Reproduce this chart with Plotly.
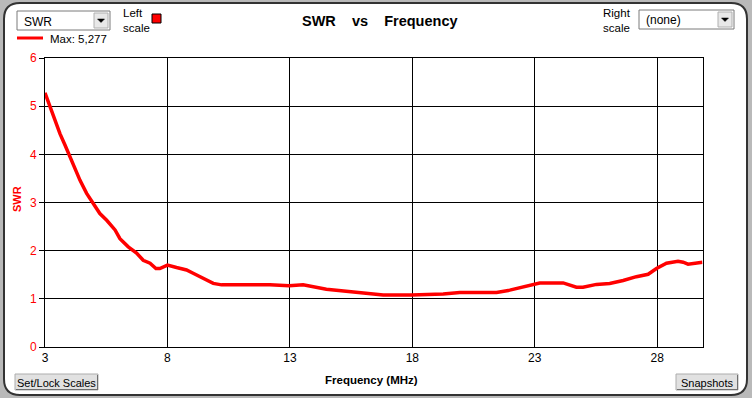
import plotly.graph_objects as go

# ---- data ----
freq_mhz = [3.0, 3.2, 3.41, 3.61, 3.82, 4.02, 4.22, 4.43, 4.70, 5.04, 5.24, 5.52, 5.86, 6.06,
            6.40, 6.74, 7.01, 7.29, 7.53, 7.69, 8.0, 8.37, 8.78, 9.05, 9.46, 9.87, 10.21,
            11.09, 12.18, 12.97, 13.27, 13.54, 14.49, 15.31, 16.13, 16.81, 17.97, 18.85,
            19.26, 19.94, 21.44, 21.98, 22.53, 22.99, 23.20, 24.16, 24.43, 24.70, 24.97,
            25.52, 26.06, 26.61, 27.15, 27.63, 27.97, 28.38, 28.85, 29.06, 29.26, 29.54, 29.85]
swr = [5.277, 4.99, 4.71, 4.43, 4.19, 3.95, 3.67, 3.46, 3.19, 2.91, 2.77, 2.63, 2.43, 2.25,
       2.08, 1.95, 1.80, 1.74, 1.63, 1.63, 1.70, 1.65, 1.60, 1.53, 1.43, 1.32, 1.29,
       1.29, 1.29, 1.27, 1.29, 1.29, 1.20, 1.16, 1.12, 1.08, 1.08, 1.09,
       1.10, 1.13, 1.13, 1.18, 1.25, 1.31, 1.33, 1.33, 1.29, 1.24, 1.24,
       1.30, 1.32, 1.38, 1.46, 1.51, 1.63, 1.74, 1.78, 1.76, 1.72, 1.74, 1.76]
x_ticks = [3, 8, 13, 18, 23, 28]
y_ticks = [0, 1, 2, 3, 4, 5, 6]
x_range = [3, 29.85]
y_range = [0, 6]
max_label = "Max: 5,277"

W, H = 752, 398


def px(x):
    return x / W


def py(y):
    return 1 - y / H


UI = "Liberation Sans, Tahoma, Arial, sans-serif"
ARIAL = "Liberation Sans, Arial, sans-serif"

shapes = []
annotations = []


def rect(x0, y0, x1, y1, fill, line="rgba(0,0,0,0)", lw=1, layer="above"):
    shapes.append(dict(type="rect", xref="paper", yref="paper",
                       x0=px(x0), x1=px(x1), y0=py(y1), y1=py(y0),
                       fillcolor=fill, line=dict(color=line, width=lw), layer=layer))


def line(x0, y0, x1, y1, color, lw=1, layer="above"):
    shapes.append(dict(type="line", xref="paper", yref="paper",
                       x0=px(x0), x1=px(x1), y0=py(y0), y1=py(y1),
                       line=dict(color=color, width=lw), layer=layer))


def text(x, y, s, size=11, color="black", family=UI, xanchor="left", yanchor="middle",
         angle=0, align="left"):
    annotations.append(dict(x=px(x), y=py(y), xref="paper", yref="paper", text=s,
                            showarrow=False, xanchor=xanchor, yanchor=yanchor, align=align,
                            textangle=angle, font=dict(size=size, color=color, family=family)))


# rounded white panel
x0, y0, x1, y1, r = 4, 3, 747, 395, 16
pts = (f"M {px(x0+r)},{py(y0)} L {px(x1-r)},{py(y0)} Q {px(x1)},{py(y0)} {px(x1)},{py(y0+r)} "
       f"L {px(x1)},{py(y1-r)} Q {px(x1)},{py(y1)} {px(x1-r)},{py(y1)} "
       f"L {px(x0+r)},{py(y1)} Q {px(x0)},{py(y1)} {px(x0)},{py(y1-r)} "
       f"L {px(x0)},{py(y0+r)} Q {px(x0)},{py(y0)} {px(x0+r)},{py(y0)} Z")
shapes.append(dict(type="path", xref="paper", yref="paper", path=pts,
                   fillcolor="white", line=dict(color="#333333", width=2), layer="below"))


def dropdown(xa, ya, xb, yb, label):
    rect(xa, ya, xb, yb, "white", "#7a7a7a", 1)
    rect(xb - 16, ya + 2, xb - 2, yb - 2, "#e8e8e8", "#b0b0b0", 1)
    cx, cy = xb - 9, (ya + yb) / 2
    tri = f"M {px(cx-3.5)},{py(cy-1.5)} L {px(cx+3.5)},{py(cy-1.5)} L {px(cx)},{py(cy+2)} Z"
    shapes.append(dict(type="path", xref="paper", yref="paper", path=tri,
                       fillcolor="black", line=dict(color="black", width=0.5)))
    text(xa + 5, (ya + yb) / 2 + 1, label, size=12, color="black")


def button(xa, ya, xb, yb, label):
    rect(xa, ya, xb, yb, "#e1e1e1", "#adadad", 1)
    line(xa + 1, yb - 0.5, xb, yb - 0.5, "#6e6e6e", 1)
    line(xb - 0.5, ya + 1, xb - 0.5, yb, "#6e6e6e", 1)
    text((xa + xb) / 2, (ya + yb) / 2 + 1, label, size=11, xanchor="center")


# top left controls
dropdown(17, 11, 110, 30, "SWR")
text(121, 20.5, "Left<br>scale", size=11.5, align="left")
rect(152, 14, 161, 23, "#ff0000", "black", 1)
line(17, 38, 43, 38, "#ff0000", 3)
text(48, 39, max_label, size=11.5)

# top right controls
text(633, 20, "Right<br>scale", size=11.5, xanchor="right", align="right")
dropdown(639, 10, 734, 29, "(none)")

# title
text(380, 21, "<b>SWR\u00a0\u00a0\u00a0\u00a0vs\u00a0\u00a0\u00a0\u00a0Frequency</b>", size=14.5,
     family=ARIAL, xanchor="center")

# axis titles
text(17, 199, "<b>SWR</b>", size=11, color="#ff0000", family=ARIAL, xanchor="center", angle=-90)
text(371, 380, "<b>Frequency (MHz)</b>", size=11.5, family=ARIAL, xanchor="center")

# buttons
button(15, 374, 98, 390, "Set/Lock Scales")
button(676, 374, 738, 390, "Snapshots")

fig = go.Figure()
fig.add_trace(go.Scatter(x=freq_mhz, y=swr, mode="lines",
                         line=dict(color="#ff0000", width=3.5), hoverinfo="skip",
                         showlegend=False))

fig.update_layout(
    width=W, height=H,
    margin=dict(l=0, r=0, t=0, b=0, pad=0, autoexpand=False),
    paper_bgcolor="#b9b9b9",
    plot_bgcolor="white",
    shapes=shapes,
    annotations=annotations,
    showlegend=False,
    xaxis=dict(domain=[px(45), px(702.5)], range=x_range, tickvals=x_ticks,
               showgrid=True, gridcolor="black", gridwidth=1, zeroline=False,
               showline=True, mirror=True, linecolor="black", linewidth=1,
               ticks="", tickfont=dict(size=12, color="black", family=UI),
               automargin=False, fixedrange=True),
    yaxis=dict(domain=[py(347), py(58)], range=y_range, tickvals=y_ticks,
               showgrid=True, gridcolor="black", gridwidth=1, zeroline=False,
               showline=True, mirror=True, linecolor="black", linewidth=1,
               ticks="outside", ticklen=5, tickcolor="black",
               tickfont=dict(size=12, color="#ff0000", family=UI),
               automargin=False, fixedrange=True),
)

fig.write_html(
    "out.html",
    config={"displayModeBar": False, "staticPlot": True},
    post_script="document.body.style.margin='0';document.body.style.overflow='hidden';",
)
